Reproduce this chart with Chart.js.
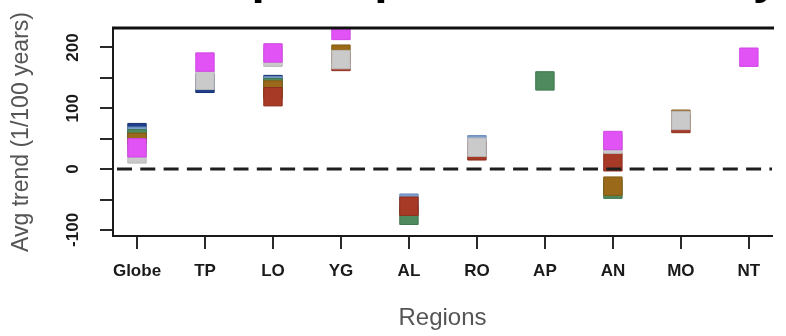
<!DOCTYPE html>
<html>
<head>
<meta charset="utf-8">
<script src="https://cdn.jsdelivr.net/npm/chart.js@4.4.1/dist/chart.umd.min.js"></script>
<style>
  html, body { margin: 0; padding: 0; background: #ffffff; overflow: hidden; }
  #wrap { width: 786px; height: 336px; position: relative; }
</style>
</head>
<body>
<div id="wrap"><canvas id="c" width="786" height="336"></canvas></div>
<script>
// Regions on the x axis
const regions = ['Globe', 'TP', 'LO', 'YG', 'AL', 'RO', 'AP', 'AN', 'MO', 'NT'];

// Average trend per series (1/100 years); null where a series has no value
const navyTrend      = [60, 141, 139, null, null, null, null, null, null, null];
const steelTrend     = [54, null, 137, null, -56, 40, null, null, null, null];
const greenTrend     = [50, null, 134, null, -76, null, 145, -33, null, null];
const goldTrend      = [44, null, 130, 189, null, null, null, -28, 82, null];
const brickTrend     = [null, null, 119, 177, -61, 30, null, 12, 75, null];
const greyTrend      = [25, 146, 184, 180, null, 36, null, 41, 80, null];
const magentaTrend   = [35, 176, 191, 228, null, null, null, 47, null, 184];

// Axis ticks
const yTickValues  = [-100, -50, 0, 50, 100, 150, 200];
const yLabelValues = [-100, 0, 100, 200];
const zeroLine     = [0, 0];

const chartTitle = 'Mean annual peak pressure trend by region';
const xAxisTitle = 'Regions';
const yAxisTitle = 'Avg trend (1/100 years)';

const X_MIN = -0.353, X_MAX = 9.34;

const seriesList = [
  { values: navyTrend,    fill: '#1f3f8c', edge: '#173272' },
  { values: steelTrend,   fill: '#7c9fd0', edge: '#6a8cbc' },
  { values: greenTrend,   fill: '#4f8a5e', edge: '#3f774e' },
  { values: goldTrend,    fill: '#9a6a1a', edge: '#855a12' },
  { values: brickTrend,   fill: '#a63a26', edge: '#8e2e1c' },
  { values: greyTrend,    fill: '#cacaca', edge: '#b8b8b8' },
  { values: magentaTrend, fill: '#e253f6', edge: '#cf45e3' }
];

// later series are painted over earlier ones
const datasets = seriesList.map((s, i) => ({
  type: 'scatter',
  data: s.values.map((v, k) => (v === null ? null : { x: k, y: v })).filter(p => p !== null),
  pointStyle: 'rect',
  pointRadius: 13,
  borderWidth: 1,
  backgroundColor: s.fill,
  borderColor: s.edge,
  clip: 0,
  order: seriesList.length - i + 1
}));

datasets.push({
  type: 'line',
  data: [{ x: X_MIN, y: zeroLine[0] }, { x: X_MAX, y: zeroLine[1] }],
  borderColor: '#1e1e1e',
  borderWidth: 3,
  borderDash: [15, 8.3],
  borderDashOffset: -4,
  pointRadius: 0,
  fill: false,
  clip: 0,
  order: 0
});

// rotated y tick labels, top frame line and the title
const decorations = {
  id: 'decorations',
  afterDraw(chart) {
    const ctx = chart.ctx;
    const yScale = chart.scales.y;
    const area = chart.chartArea;
    ctx.save();
    ctx.fillStyle = '#1a1a1a';
    ctx.font = 'bold 17px "Liberation Sans", Arial, sans-serif';
    ctx.textAlign = 'center';
    ctx.textBaseline = 'middle';
    yLabelValues.forEach(v => {
      const py = yScale.getPixelForValue(v);
      ctx.save();
      ctx.translate(73, py);
      ctx.rotate(-Math.PI / 2);
      ctx.fillText(String(v), 0, 0);
      ctx.restore();
    });
    // top of the plot box
    ctx.strokeStyle = '#111111';
    ctx.lineWidth = 3;
    ctx.beginPath();
    ctx.moveTo(area.left - 1, area.top);
    ctx.lineTo(area.right + 2, area.top);
    ctx.stroke();
    // main title, sitting mostly above the page edge
    ctx.fillStyle = '#000000';
    ctx.font = 'bold 48px "Liberation Sans", Arial, sans-serif';
    ctx.textAlign = 'center';
    ctx.textBaseline = 'alphabetic';
    ctx.fillText(chartTitle, (area.left + area.right + 2) / 2, -7);
    ctx.restore();
  }
};

new Chart(document.getElementById('c'), {
  data: { datasets },
  plugins: [decorations],
  options: {
    responsive: false,
    animation: false,
    devicePixelRatio: 1,
    events: [],
    layout: { padding: { top: 28, left: 0, right: 0, bottom: 0 } },
    plugins: { legend: { display: false }, tooltip: { enabled: false }, title: { display: false } },
    scales: {
      x: {
        type: 'linear',
        position: 'bottom',
        min: X_MIN,
        max: X_MAX,
        afterBuildTicks: s => { s.ticks = regions.map((_, i) => ({ value: i })); },
        afterFit: s => { s.height = 100; },
        ticks: {
          callback: v => regions[v],
          autoSkip: false,
          maxRotation: 0,
          minRotation: 0,
          padding: 12,
          color: '#1a1a1a',
          font: { family: '"Liberation Sans", Arial, sans-serif', size: 17, weight: 'bold' }
        },
        grid: { drawOnChartArea: false, drawTicks: true, tickLength: 13, color: '#2a2a2a', lineWidth: 2 },
        border: { display: true, color: '#1a1a1a', width: 2 },
        title: {
          display: true,
          text: xAxisTitle,
          color: '#555555',
          padding: { top: 0, bottom: 3 },
          font: { family: '"Liberation Sans", Arial, sans-serif', size: 24 }
        }
      },
      y: {
        type: 'linear',
        min: -110,
        max: 232,
        afterBuildTicks: s => { s.ticks = yTickValues.map(v => ({ value: v })); },
        afterFit: s => { s.width = 113; },
        ticks: { display: false },
        grid: { drawOnChartArea: false, drawTicks: true, tickLength: 13, color: '#2a2a2a', lineWidth: 2 },
        border: { display: true, color: '#1a1a1a', width: 2 },
        title: {
          display: true,
          text: yAxisTitle,
          color: '#555555',
          padding: { top: 8, bottom: 0 },
          font: { family: '"Liberation Sans", Arial, sans-serif', size: 23 }
        }
      }
    }
  }
});
</script>
</body>
</html>
